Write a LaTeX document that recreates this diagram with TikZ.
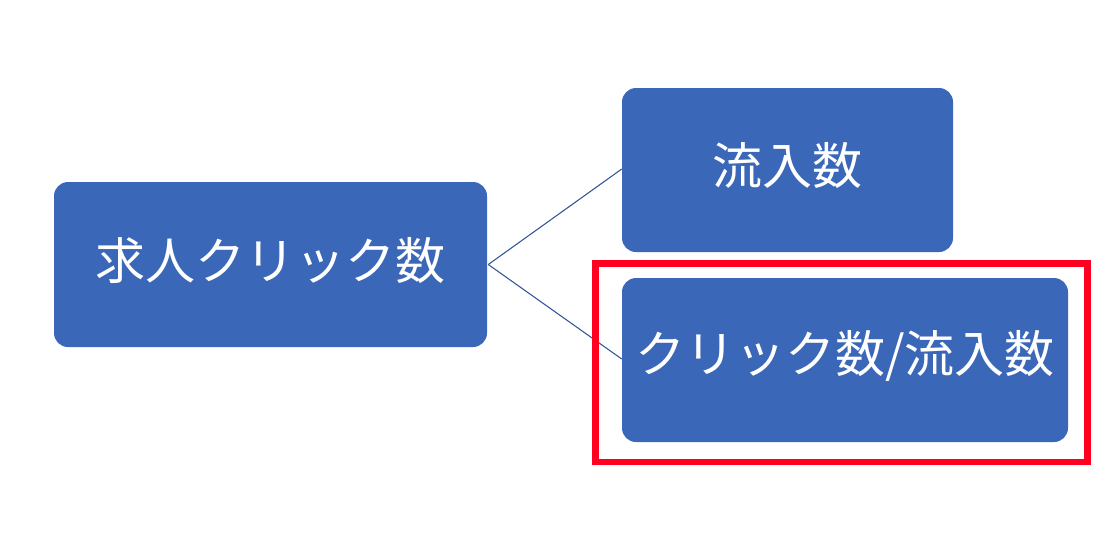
\documentclass[tikz,border=0pt]{standalone}
\usepackage{fontspec}
\newfontfamily\jp{Noto Sans CJK JP}
\definecolor{boxblue}{HTML}{3A67B8}
\definecolor{lineblue}{HTML}{2F5597}
\definecolor{hlred}{HTML}{FF0020}
\begin{document}
\begin{tikzpicture}[x=0.75pt,y=-0.75pt,
  bluebox/.style={fill=boxblue,draw=none,rounded corners=10.5pt,inner sep=0pt},
  lbl/.style={text=white,font=\jp\fontsize{37.5}{42}\selectfont,inner sep=0pt},
  conn/.style={draw=lineblue,line width=0.8pt}]
\useasboundingbox (0,0) rectangle (1120,537);
\node[bluebox,minimum width=433*0.75pt,minimum height=165*0.75pt] (A) at (270.5,264.5) {};
\node[lbl] (a) at ([yshift=3pt]A.center) {求人クリック数};
\node[bluebox,minimum width=331*0.75pt,minimum height=164*0.75pt] (B) at (787.5,170) {};
\node[lbl] (b) at ([yshift=3pt]B.center) {流入数};
\node[bluebox,minimum width=446*0.75pt,minimum height=164*0.75pt] (C) at (845,360) {};
\node[lbl] (c) at ([yshift=3pt]C.center) {クリック数/流入数};
\draw[conn] ([xshift=0.75pt]A.east) -- ([yshift=0.75pt]B.west);
\draw[conn] ([xshift=0.75pt]A.east) -- ([yshift=0.75pt]C.west);
\node[draw=hlred,line width=5pt,minimum width=492*0.75pt,minimum height=198.5*0.75pt,inner sep=0pt] (hl) at (841.5,362.75) {};
\end{tikzpicture}
\end{document}
